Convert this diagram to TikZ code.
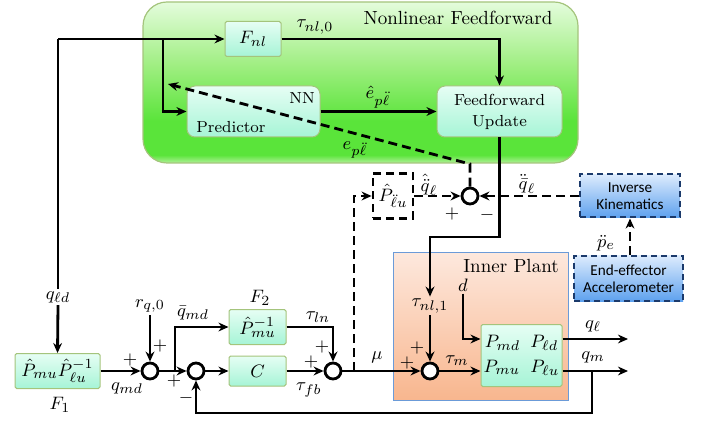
\documentclass[tikz,border=0pt]{standalone}
\usepackage{fontspec}
\newfontfamily\carlito{Carlito}
\usetikzlibrary{arrows.meta,calc}
\definecolor{gtop}{HTML}{E4FCDC}
\definecolor{gmid}{HTML}{9EEE80}
\definecolor{gbot}{HTML}{5AE43A}
\definecolor{gedge}{HTML}{B0F098}
\definecolor{gborder}{HTML}{A4C47C}
\definecolor{btop}{HTML}{E6FEF4}
\definecolor{bbot}{HTML}{A6F4D6}
\definecolor{ptop}{HTML}{FDE8DD}
\definecolor{pbot}{HTML}{F8B68E}
\definecolor{pborder}{HTML}{6B9BD8}
\definecolor{ktop}{HTML}{DCEBFD}
\definecolor{kbot}{HTML}{5EA1EE}
\definecolor{kborder}{HTML}{1B3A6B}
\pgfdeclareverticalshading{nlshade}{100bp}{color(0bp)=(gedge); color(25bp)=(gedge); color(27.5bp)=(gbot); color(38bp)=(gbot); color(55bp)=(gmid); color(75bp)=(gtop); color(100bp)=(gtop)}
\begin{document}
\begin{tikzpicture}[x=0.5pt,y=-0.5pt,font=\fontsize{9.5}{11}\selectfont,
  sig/.style={line width=1.4pt,-{Stealth[length=5pt,width=4.4pt]}},
  dsig/.style={sig,dash pattern=on 4.5pt off 2.5pt},
  blk/.style={draw=gborder,line width=0.5pt,top color=btop,bottom color=bbot,inner sep=0pt,rounded corners=0.8pt},
  rblk/.style={blk,rounded corners=4pt},
  nlbox/.style={draw=gborder,line width=0.6pt,shading=nlshade,rounded corners=12pt,inner sep=0pt},
  ipbox/.style={draw=pborder,line width=0.5pt,top color=ptop,bottom color=pbot,inner sep=0pt},
  bbox/.style={draw=kborder,line width=1pt,dash pattern=on 3pt off 2pt,top color=ktop,bottom color=kbot,inner sep=0pt,font=\carlito\fontsize{7.6}{8.6}\selectfont},
  dbox/.style={draw,line width=1.4pt,dash pattern=on 4pt off 2.5pt,fill=white,inner sep=0pt},
  sumc/.style={circle,draw,line width=1.4pt,fill=white,minimum size=8pt,inner sep=0pt},
  lbl/.style={inner sep=1pt},
  smalltxt/.style={font=\fontsize{8}{10.5}\selectfont}]
\useasboundingbox (0,0) rectangle (704,421);

% containers
\node[nlbox,minimum width=217.5pt,minimum height=80.5pt] (NLF) at (360.5,82.5) {};
\node[lbl] (NLFt) at (458,18) {Nonlinear Feedforward};
\node[ipbox,minimum width=87.5pt,minimum height=73.5pt] (IP) at (480.5,326.5) {};
\node[lbl] (IPt) at (511,266) {Inner Plant};

% blocks
\node[blk,minimum width=28pt,minimum height=17.5pt] (Fnl) at (253,39) {$F_{nl}$};
\node[rblk,minimum width=66.5pt,minimum height=25.5pt] (Pred) at (253.5,111.5) {};
\node[lbl,smalltxt] (NN) at (302,98) {NN};
\node[lbl,smalltxt] (PredT) at (231,127) {Predictor};
\node[rblk,minimum width=62.5pt,minimum height=25.5pt,align=center,smalltxt] (FU) at (499.5,111.5) {Feedforward\\Update};
\node[dbox,minimum width=20pt,minimum height=22.5pt] (Phl) at (393,196) {$\hat P_{\ddot\ell u}$};
\node[sumc] (es) at (470,196) {};
\node[bbox,minimum width=50pt,minimum height=21.5pt,align=center] (IK) at (630,196) {Inverse\\Kinematics};
\node[bbox,minimum width=54.5pt,minimum height=22.5pt,align=center] (EE) at (628.5,278.5) {End-effector\\Accelerometer};
\node[blk,minimum width=40.5pt,minimum height=31pt,align=center] (Plant) at (521.5,355.5) {$P_{md}\;\;P_{\ell d}$\\[1.5pt]$P_{mu}\;\;P_{\ell u}$};
\node[blk,minimum width=42.5pt,minimum height=17.5pt] (F1) at (57.5,371) {$\hat P_{mu}\hat P_{\ell u}^{-1}$};
\node[blk,minimum width=28.5pt,minimum height=17.5pt] (F2) at (257.5,327) {$\hat P_{mu}^{-1}$};
\node[blk,minimum width=28.5pt,minimum height=15pt] (C) at (257.5,371) {$C$};

% summing junctions
\node[sumc] (s1) at (150,371) {};
\node[sumc] (s2) at (196,371) {};
\node[sumc] (s3) at (333,371) {};
\node[sumc] (s4) at (430,371) {};

% labels
\node[lbl,fill=white] (qld) at (58,297) {$q_{\ell d}$};
\node[lbl] (F1lab) at (60,405) {$F_1$};
\node[lbl] (F2lab) at (260,298) {$F_2$};
\node[lbl] (p1) at (130,360) {$+$};
\node[lbl] (qmd) at (127,388) {$q_{md}$};
\node[lbl] (rq) at (150,306) {$r_{q,0}$};
\node[lbl] (p2) at (160,346) {$+$};
\node[lbl] (qbar) at (193,313) {$\bar q_{md}$};
\node[lbl] (p3) at (174,381) {$+$};
\node[lbl] (m1) at (186,398) {$-$};
\node[lbl] (taufb) at (309,390) {$\tau_{fb}$};
\node[lbl] (p4) at (311,362) {$+$};
\node[lbl] (tauln) at (318,317) {$\tau_{ln}$};
\node[lbl] (p5) at (322,347) {$+$};
\node[lbl] (mu) at (377,357) {$\mu$};
\node[lbl] (p6) at (407,363) {$+$};
\node[lbl] (p7) at (417,348) {$+$};
\node[lbl] (taum) at (457,361) {$\tau_m$};
\node[lbl] (tnl1) at (430,306) {$\tau_{nl,1}$};
\node[lbl] (d) at (463,285) {$d$};
\node[lbl] (qllab) at (593,326) {$q_\ell$};
\node[lbl] (qmlab) at (593,357) {$q_m$};
\node[lbl] (tnl0) at (315,27) {$\tau_{nl,0}$};
\node[lbl] (ehat) at (378,97) {$\hat e_{p\ddot\ell}$};
\node[lbl] (epl) at (355,150) {$e_{p\ddot\ell}$};
\node[lbl] (qhdd) at (429,185) {$\hat{\ddot q}_\ell$};
\node[lbl] (p8) at (452,214) {$+$};
\node[lbl] (m2) at (487,215) {$-$};
\node[lbl] (qbdd) at (527,184) {$\ddot{\bar q}_\ell$};
\node[lbl] (pe) at (606,243) {$\ddot p_e$};

% coordinates
\coordinate (qc) at (58,39);
\coordinate (b1) at (163,39);
\coordinate (k1) at (430,237);
\coordinate (ec) at (470,164);
\coordinate (ee) at (168,84);
\coordinate (mu0) at (354,371);
\coordinate (b2) at (175,371);
\coordinate (qlend) at (628,339);
\coordinate (qmend) at (628,371);
\coordinate (fb1) at (592,371);
\coordinate (fb2) at (592,413);

% connectors
\draw[line width=1.4pt] (qc) -- (qld.north);
\draw[sig] (qld.south) -- (F1.north);
\draw[sig] (qc) -- (Fnl.west);
\draw[sig] (b1) |- (Pred.west);
\draw[sig] (Fnl.east) -| (FU.north);
\draw[sig] (Pred.east) -- (FU.west);
\draw[sig] (FU.south) |- (k1) -- (tnl1.north);
\draw[sig] (tnl1.south) -- (s4.north);
\draw[dsig] (Phl.east) -- (es.west);
\draw[dsig] (IK.west) -- (es.east);
\draw[dsig] (EE.north -| IK.south) -- (IK.south);
\draw[dsig] (es.north) -- (ec) -- (ee);
\draw[dsig] (mu0) |- (Phl.west);
\draw[sig] (F1.east) -- (s1.west);
\draw[sig] (rq.south) -- (s1.north);
\draw[sig] (s1.east) -- (s2.west);
\draw[sig] (b2) |- (F2.west);
\draw[sig] (s2.east) -- (C.west);
\draw[sig] (C.east) -- (s3.west);
\draw[sig] (F2.east) -| (s3.north);
\draw[sig] (s3.east) -- (s4.west);
\draw[sig] (s4.east) -- (Plant.west |- s4);
\draw[sig] (Plant.east |- qlend) -- (qlend);
\draw[sig] (Plant.east |- qmend) -- (qmend);
\draw[sig] (d.south) |- (Plant.west |- qlend);
\draw[sig] (fb1) -- (fb2) -| (s2.south);
\end{tikzpicture}
\end{document}
